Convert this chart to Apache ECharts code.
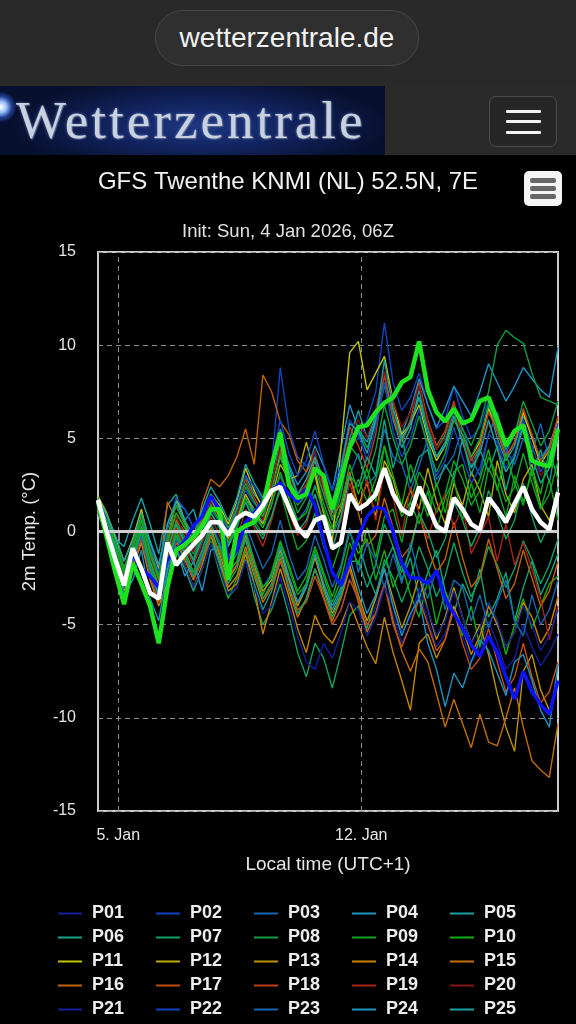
<!DOCTYPE html>
<html>
<head>
<meta charset="utf-8">
<title>GFS Twenthe</title>
<script src="https://cdn.jsdelivr.net/npm/echarts@6/dist/echarts.min.js"></script>
<style>
html, body { margin: 0; padding: 0; background: #000; width: 576px; height: 1024px; overflow: hidden; font-family: "Liberation Sans", Arial, sans-serif; }
#chart { position: absolute; left: 0; top: 0; width: 576px; height: 1024px; }
#topbar { position: absolute; left: 0; top: 0; width: 576px; height: 85px; background: #292929; z-index: 2; }
#url { position: absolute; left: 155px; top: 10px; width: 264px; height: 56px; box-sizing: border-box; border-radius: 28px; background: #2f2f2f; border: 1px solid #474747; color: #f2f2f2; font-size: 28px; line-height: 54px; text-align: center; }
#header { position: absolute; left: 0; top: 85px; width: 576px; height: 70px; background: #2a2a2a; z-index: 2; }
#logo { position: absolute; left: 0; top: 1px; width: 385px; height: 69px; overflow: hidden;
  background: radial-gradient(ellipse 190px 50px at 200px 40px, #1d3780 0%, #122460 45%, #07102e 100%); }
#logo .star { position: absolute; left: -14px; top: 6px; width: 30px; height: 30px; border-radius: 50%;
  background: radial-gradient(circle, #ffffff 0%, #9ec4ff 25%, rgba(60,110,255,0.5) 50%, rgba(0,0,0,0) 75%); }
#logo .txt { position: absolute; left: 16px; top: 2px; font-family: "Liberation Serif", "DejaVu Serif", serif; font-size: 53px; letter-spacing: 3px; line-height: 64px;
  color: #c9d0de; text-shadow: 0 0 3px rgba(140,170,255,0.6), 1px 1px 0 #4a5470; }
#menu { position: absolute; left: 489px; top: 11px; width: 68px; height: 51px; box-sizing: border-box; border: 1px solid #4b4b4b; border-radius: 7px; background: #262626; }
#menu span { position: absolute; left: 16px; width: 35px; height: 3px; background: #f4f4f4; border-radius: 1px; }
</style>
</head>
<body>
<div id="chart"></div>
<div id="topbar"><div id="url">wetterzentrale.de</div></div>
<div id="header">
  <div id="logo"><div class="star"></div><div class="txt">Wetterzentrale</div></div>
  <div id="menu"><span style="top:13px"></span><span style="top:23px"></span><span style="top:34px"></span></div>
</div>
<script>
// hours relative to 5 Jan 00:00 local time (UTC+1), 6-hourly from 4 Jan 10:00
var hours = [-14,-8,-2,4,10,16,22,28,34,40,46,52,58,64,70,76,82,88,94,100,
  106,112,118,124,130,136,142,148,154,160,166,172,178,184,190,196,202,208,214,220,
  226,232,238,244,250,256,262,268,274,280,286,292,298,304];
var tickHours = [0, 168];
var tickLabels = ['5. Jan', '12. Jan'];
var yTicks = [-15, 15, 5];

var P01 = [1.4,0.5, -1.0,-2.6,-1.2,-0.6, -2.5,-3.4,-1.5,-0.8, -1.5,-2.2,-0.8,0.6, -0.5,-1.8,-1.2,0.2, -1.5,-3.0,-2.2,-0.8, -2.8,-4.5,-3.6,-2.0, -3.5,-5.0,-4.2,-2.5, -3.8,-5.2,-4.0,-2.8, -4.5,-6.0,-5.0,-3.2, -4.8,-6.2,-5.5,-4.0, -5.6,-7.0,-6.2,-4.8, -6.0,-7.4,-6.8,-5.0, -6.2,-7.2,-6.5,-5.5];
var P02 = [1.6,0.8, -0.8,-2.2,-1.0,0.2, -1.5,-2.8,-0.6,0.5, -0.2,-1.0,0.5,1.8, 0.8,-0.2,1.0,2.2, 1.5,1.0,3.5,8.8, 5.5,4.0,3.5,4.2, 2.5,1.0,2.0,4.5, 5.0,6.0,7.5,11.2, 8.0,6.5,7.2,8.5, 6.8,5.5,6.0,7.8, 6.2,5.0,5.6,7.0, 5.5,4.2,5.2,6.5, 5.0,4.0,4.6,6.0];
var P03 = [1.2,0.0, -1.2,-2.8,-1.6,-0.4, -2.0,-3.5,-1.8,0.2, -0.8,-1.5,0.2,1.2, 0.5,-0.5,0.6,1.8, 0.8,0.2,1.5,3.0, 1.8,0.6,1.2,2.5, 1.0,-0.2,0.8,3.0, 4.2,2.5,3.0,5.5, 4.0,3.6,2.2,3.5, 5.0,2.8,3.4,4.1, 5.6,4.0,3.0,5.2, 6.4,4.4,3.6,5.0, 4.2,5.8,3.8,5.4];
var P04 = [1.5,0.4, -0.6,-2.0,-0.8,1.0, -0.5,-1.8,0.4,1.6, 1.2,0.2,1.0,1.8, 0.6,-0.8,0.5,2.0, 1.2,0.5,2.5,4.8, 3.6,2.5,3.2,4.6, 3.5,2.2,4.5,6.8, 5.5,4.8,6.0,8.0, 6.5,5.2,6.5,8.2, 6.8,5.6,6.6,7.8, 7.0,6.2,7.5,9.0, 8.0,7.0,7.8,8.8, 8.2,7.6,7.2,9.9];
var P05 = [1.8,0.8, -0.4,-0.8,0.6,1.8, 0.4,-1.2,1.4,2.0, 0.6,1.2,-0.4,2.0, 1.0,0.0,1.2,3.0, 2.0,1.4,3.0,5.5, 3.5,2.0,2.5,3.8, 2.2,1.0,2.8,5.0, 6.5,5.0,6.2,8.5, 6.0,4.5,5.5,7.6, 5.5,4.0,4.8,6.5, 4.8,3.5,4.5,6.8, 5.0,3.8,4.6,6.2, 5.2,3.8,4.6,6.0];
var P06 = [1.0,-0.2, -1.5,-3.0,-1.8,-0.2, -2.2,-3.6,-2.5,-1.0, -2.0,-3.2,-2.0,-0.6, -1.6,-3.0,-2.4,-1.0, -2.8,-4.2,-3.2,-1.6, -2.5,-3.8,-2.8,-1.2, -2.8,-4.0,-3.0,-1.4, -0.6,-2.2,-3.4,-1.8, -0.8,-2.6,-1.4,-3.6, -2.2,-1.0,-3.2,-4.4, -2.8,-3.8,-2.0,-4.6, -3.6,-2.2,-4.8,-3.0, -1.6,-3.4,-2.4,-1.2];
var P07 = [1.3,0.3, -1.0,-2.5,-1.2,0.4, -1.8,-3.0,-1.2,0.0, -1.2,-2.5,-1.4,-0.2, -1.8,-3.5,-3.0,-1.5, -3.5,-5.0,-4.2,-2.8, -4.5,-6.5,-7.8,-6.0, -6.8,-8.4,-6.5,-4.5, -4.0,-5.2,-3.5,-1.5, -2.5,-3.8,-2.6,-0.8, -2.0,-3.5,-2.4,-0.6, -2.2,-3.5,-2.5,-0.8, -1.8,-3.0,-2.0,-0.5, -1.5,-2.8,-1.8,-0.4];
var P08 = [1.7,0.6, -0.5,-1.9,-0.9,0.5, -1.0,-2.2,-0.4,0.8, -0.3,-1.2,0.2,1.5, 0.6,-0.4,0.8,2.4, 1.6,0.8,2.2,4.2, 2.5,1.0,1.8,3.2, 1.5,0.2,2.0,4.8, 5.5,4.5,5.8,7.8, 6.2,4.8,5.8,7.2, 5.6,4.4,5.2,6.8, 5.5,4.6,5.8,7.5, 10.0,10.8,10.4,10.1, 8.5,7.2,7.0,6.8];
var P09 = [1.1,0.2, -1.2,-2.6,-1.4,0.0, -2.0,-3.2,-1.0,0.6, -0.5,-1.5,-0.2,1.0, 0.2,-0.8,0.4,1.6, 0.6,-0.2,0.8,2.2, 0.5,-1.0,-0.5,1.0, -0.8,-2.0,-0.6,1.8, 2.8,1.6,2.8,4.6, 2.2,0.8,1.6,3.2, 2.4,1.0,2.0,3.8, 2.8,1.4,2.2,4.0, 3.0,1.6,2.4,4.2, 2.6,1.2,2.0,3.8];
var P10 = [1.4,0.2, -0.8,-2.4,-1.0,0.6, -1.6,-3.0,-1.5,-0.2, -1.8,-3.0,-2.0,-0.5, -2.2,-3.6,-2.5,-1.0, -2.0,-3.4,-2.2,-0.5, -1.8,-3.2,-2.4,-0.8, -2.2,-3.5,-2.0,0.0, -1.2,-0.4,-2.6,-1.0, -3.0,-1.8,-3.4,-4.6, -2.6,-5.0,-3.2,-4.4, -5.6,-4.0,-6.2,-3.8, -4.8,-6.6,-5.0,-3.6, -5.2,-4.0,-2.8,-2.4];
var P11 = [1.9,1.0, -0.3,-1.6,-0.4,1.2, -0.8,-2.0,0.2,1.4, 0.4,-0.6,0.8,2.0, 1.4,0.4,1.6,3.4, 2.2,1.2,2.6,4.0, 3.0,1.6,2.0,3.2, 1.0,-0.5,4.5,9.6, 10.2,7.6,8.5,9.4, 7.0,5.2,5.8,6.8, 5.0,3.8,4.6,6.0, 5.2,4.0,4.8,6.6, 5.4,4.0,4.8,6.4, 5.0,3.6,4.4,6.0];
var P12 = [1.3,0.4, -1.0,-2.4,-1.2,0.2, -1.5,-2.8,-0.8,1.8, 0.5,-0.5,0.5,1.6, 0.8,-0.4,0.6,2.0, 1.0,0.4,1.8,3.6, 2.8,3.0,4.8,3.0, 1.0,0.0,1.2,3.0, 1.4,2.6,0.8,3.8, 2.8,1.0,2.2,1.2, 3.4,1.6,0.4,2.6, 1.4,3.2,2.2,0.8, 3.8,2.0,1.0,2.8, 3.6,1.4,0.6,2.2];
var P13 = [1.2,0.1, -1.3,-2.9,-1.5,-0.1, -2.0,-3.4,-1.6,-0.4, -1.5,-2.6,-1.2,0.2, -1.2,-2.6,-1.8,-0.2, -1.8,-3.2,-2.6,-1.0, -2.6,-4.0,-3.0,-1.4, -3.0,-4.4,-3.4,-1.8, -3.4,-4.8,-3.6,-2.0, -3.6,-5.2,-4.0,-2.4, -4.2,-5.8,-4.6,-3.0, -4.6,-6.0,-5.0,-6.6, -8.7,-10.5,-11.8,-7.5, -6.6,-8.5,-9.6,-8.0];
var P14 = [1.0,-0.3, -1.6,-3.2,-2.0,-0.6, -2.6,-4.0,-2.8,-1.0, -1.8,-3.0,-1.8,-0.2, -1.5,-3.2,-2.8,-1.2, -3.0,-5.5,-3.8,-2.0, -3.5,-5.2,-6.5,-4.5, -5.5,-6.0,-5.0,-3.8, -5.0,-6.2,-7.1,-4.6, -6.5,-8.0,-9.6,-6.0, -5.5,-6.8,-5.8,-4.0, -5.2,-6.6,-5.6,-4.0, -5.0,-6.2,-5.4,-3.8, -4.6,-6.0,-5.2,-3.5];
var P15 = [1.6,0.6, -0.6,-2.0,-0.8,0.6, -1.4,-2.8,-1.0,0.4, -1.0,-2.2,-1.0,0.2, -1.4,-3.0,-2.4,-0.8, -2.4,-3.8,-3.0,-1.4, -3.2,-4.6,-3.6,-2.0, -3.5,-4.8,-3.6,-2.0, -3.8,-5.4,-4.4,-2.8, -4.8,-6.4,-7.5,-6.3, -7.0,-8.7,-10.5,-9.0, -10.3,-11.6,-9.8,-11.3, -11.5,-10.0,-8.4,-10.5, -12.3,-12.8,-13.2,-10.3];
var P16 = [1.5,0.5, -0.9,-2.3,-1.0,0.4, -1.2,-2.6,1.6,0.6, 0.0,-0.8,1.5,2.8, 2.4,3.0,4.0,5.5, 3.6,8.4,7.5,5.9, 5.2,3.8,3.2,4.0, 2.4,0.8,1.5,3.2, 1.0,-0.8,-0.2,1.8, 0.2,-1.4,-0.8,1.0, -0.8,-2.2,-1.5,0.5, -1.4,-3.0,-2.4,-0.4, -2.0,-3.6,-2.8,-1.0, -2.5,-4.0,-3.2,-1.6];
var P17 = [1.1,-0.1, -1.4,-3.0,-1.8,-0.4, -2.4,-3.8,-2.2,-0.6, -1.4,-2.6,-1.6,-0.2, -1.0,-2.4,-1.8,-0.4, -2.0,-3.6,-3.0,-1.6, -3.0,-4.2,-3.8,-2.4, -3.6,-5.0,-4.2,-2.6, -3.6,-5.0,-4.4,-2.8, -5.0,-6.2,-5.0,-3.6, -5.0,-6.4,-5.8,-4.2, -6.0,-7.4,-6.8,-5.2, -7.0,-8.6,-7.8,-6.0, -7.8,-9.2,-8.6,-7.0];
var P18 = [1.7,0.7, -0.6,-2.0,-0.8,0.8, -1.0,-2.4,-0.4,1.0, 0.2,-0.6,0.6,1.8, 1.2,0.2,1.4,2.8, 1.8,1.0,2.6,4.4, 2.8,1.6,2.4,4.0, 2.6,1.2,3.0,5.6, 4.6,3.4,5.2,8.4, 6.2,4.8,6.0,8.0, 6.0,4.6,5.4,7.0, 5.0,3.8,4.6,6.4, 5.4,4.0,4.8,6.6, 5.2,3.8,4.4,6.2];
var P19 = [1.3,0.3, -1.1,-2.6,-1.3,0.2, -1.8,-3.2,-1.4,0.2, -0.8,-1.8,-0.6,0.8, -0.2,-1.4,-0.4,1.2, 0.2,-0.8,0.6,2.4, 1.0,-0.2,0.4,2.0, 0.6,-0.8,0.6,2.6, 1.0,2.8,0.6,3.4, 1.8,-0.2,2.4,1.0, -0.4,1.2,2.0,0.2, 1.4,-1.2,-0.2,0.8, -1.6,0.4,-1.8,-0.6, -2.0,-3.6,-5.8,-4.0];
var P20 = [1.4,0.5, -0.9,-2.4,-1.1,0.4, -1.4,-2.7,-0.7,0.8, -0.2,-1.1,0.4,1.6, 0.6,-0.6,0.8,2.6, 1.6,0.6,2.4,4.6, 3.0,1.8,2.6,4.4, 2.0,0.6,2.8,5.4, 6.0,5.0,6.6,8.6, 7.0,5.6,6.4,7.8, 5.8,4.4,5.0,6.6, 5.0,3.6,4.2,5.8, 4.6,3.2,4.0,5.6, 4.2,3.0,3.6,5.2];
var P21 = [1.2,0.2, -1.2,-2.8,-1.4,0.0, -2.0,-3.4,-2.0,-0.8, -1.8,-3.0,-2.0,-0.6, -2.0,-3.4,-3.0,-1.6, -3.0,-4.4,-4.0,-2.4, -4.0,-5.6,-7.0,-7.4, -6.0,-6.8,-5.4,-3.8, -4.2,-5.6,-4.6,-3.0, -4.0,-5.4,-4.6,-3.0, -4.2,-5.6,-4.8,-3.2, -4.6,-6.0,-5.2,-3.8, -4.8,-6.2,-5.4,-4.0, -5.0,-6.4,-5.6,-4.2];
var P22 = [1.6,0.7, -0.7,-2.1,-0.9,0.6, -0.8,-2.2,0.2,1.8, 1.2,0.2,1.0,2.0, 1.0,0.0,1.4,3.0, 2.4,1.6,3.6,6.0, 4.2,3.0,3.8,5.4, 3.6,2.2,3.6,6.0, 5.2,3.8,5.6,8.0, 5.4,4.0,5.0,6.6, 4.4,3.0,3.8,5.6, 4.0,2.6,3.4,5.2, 4.8,3.4,4.2,6.0, 4.6,3.2,4.0,5.8];
var P23 = [1.0,-0.1, -1.4,-3.0,-1.6,-0.2, -2.2,-3.6,-2.2,-0.4, -1.2,-2.4,-1.2,0.4, -0.6,-2.0,-1.2,0.4, -0.8,-2.0,-1.2,0.6, -1.2,-2.6,-2.0,-0.2, -1.5,-3.0,-1.8,0.2, -2.2,-0.6,-1.6,-3.0, -1.2,-2.8,-0.6,-2.4, -3.6,-2.0,-4.2,-2.6, -3.0,-4.8,-3.4,-5.2, -3.8,-2.6,-4.8,-5.6, -3.4,-5.0,-4.2,-2.6];
var P24 = [1.5,0.3, -0.8,-3.4,-2.6,-1.0, -3.6,-4.8,-2.0,-0.8, -2.4,-1.6,-3.2,-1.0, -0.8,-2.2,-1.6,0.0, -1.6,-3.0,-2.4,-0.8, -2.4,-3.8,-3.0,-1.2, -2.8,-4.2,-3.2,-1.4, -3.0,-4.4,-3.4,-2.0, -4.0,-5.6,-4.4,-3.6, -6.0,-7.4,-9.4,-7.6, -8.4,-7.0,-5.8,-6.4, -7.6,-8.8,-7.0,-6.6, -8.0,-9.6,-10.5,-7.1];
var P25 = [1.8,0.9, -0.2,-1.6,-0.5,1.0, -0.6,-1.8,0.4,1.6, 0.6,-0.2,1.2,2.4, 1.6,0.6,1.8,3.6, 2.6,1.8,3.4,5.2, 3.2,2.0,2.8,4.0, 2.8,1.6,3.4,5.8, 5.4,4.2,6.0,9.2, 6.6,5.0,5.8,7.2, 5.2,4.0,4.6,6.2, 4.8,3.4,4.2,6.0, 4.4,3.2,4.0,5.6, 4.0,2.6,3.4,5.0];
var P26 = [1.2,0.3, -1.0,-2.5,-1.2,0.3, -1.6,-3.0,-1.0,0.4, -0.6,-1.6,-0.4,1.0, 0.2,-0.8,0.2,1.6, 0.4,-0.4,0.8,2.4, 1.2,0.0,0.6,2.0, 0.4,-1.0,0.8,3.0, 2.4,4.0,3.0,6.0, 3.4,5.2,2.6,4.0, 4.4,2.4,3.6,2.8, 5.0,3.0,4.4,3.2, 4.6,2.2,4.0,5.8, 3.0,4.4,2.6,5.2];
var P27 = [1.1,0.0, -1.3,-2.8,-1.5,0.0, -2.0,-3.4,-1.8,-0.2, -1.2,-2.4,-1.4,0.0, -1.4,-2.8,-2.0,-0.4, -2.2,-3.6,-2.8,-1.2, -3.0,-4.4,-3.6,-2.0, -3.2,-4.6,-3.4,-1.6, -1.6,-3.0,-1.8,0.4, -0.8,-2.2,-1.0,1.0, 0.0,-1.4,-0.4,1.6, 0.6,-0.8,0.2,2.2, 1.0,-0.4,0.6,2.6, 0.8,-0.6,0.4,2.4];
var P28 = [1.6,0.6, -0.5,-2.0,-0.7,0.9, -1.0,-2.4,-0.2,1.4, 0.4,-0.4,0.8,2.0, 1.2,0.2,1.2,2.6, 1.6,0.8,2.2,4.0, 2.6,1.4,2.0,3.4, 2.0,0.6,2.4,4.6, 4.0,2.8,4.4,6.8, 5.0,3.6,4.6,6.2, 4.6,3.2,4.2,6.0, 5.2,4.0,5.0,6.8, 5.6,4.4,5.2,7.0, 5.8,4.6,5.4,7.0];
var P29 = [1.3,0.1, -1.1,-2.6,-1.3,0.2, -1.8,-3.2,-1.6,0.0, -1.0,-2.2,-1.0,0.4, -0.8,-2.2,-1.6,0.0, -1.6,-3.0,-2.4,-0.6, -2.0,-3.4,-2.8,-1.0, -2.4,-3.8,-2.6,-0.6, -1.8,0.2,-1.4,0.8, 1.2,-0.6,1.6,0.4, 2.2,0.0,1.8,2.8, 0.6,2.6,1.0,3.4, 2.4,0.8,3.0,1.6, 3.2,1.2,2.8,0.6];
var P30 = [1.5,0.6, -0.7,-2.2,-0.9,0.6, -1.2,-2.6,-0.6,1.0, 0.2,-0.8,0.4,1.4, 0.6,-0.6,0.4,1.8, 1.0,0.2,1.4,3.2, 1.8,0.6,1.0,2.4, 1.2,-0.2,1.4,3.6, 2.0,3.4,1.6,4.6, 3.0,1.4,3.6,2.2, 0.8,2.6,1.0,3.2, 3.6,1.8,2.8,4.4, 2.2,4.2,2.6,1.4, 3.4,2.0,4.4,2.8];

// control run (blue), operational run (green), ensemble mean (white)
var control = [1.5,0.2, -1.8,-2.8,-1.2,-2.0, -2.4,-3.0,-1.5,-1.0, -0.5,0.3,0.8,1.9, 1.2,-1.5,-1.0,0.5, 1.0,1.6,2.2,2.6, 2.0,1.6,2.3,1.4, -0.5,-2.2,-2.9,-1.6, -0.3,0.8,1.3,1.2, 0.0,-1.7,-2.5,-2.5, -2.8,-2.1,-3.6,-4.4, -5.2,-6.1,-6.7,-5.6, -6.5,-7.8,-9.0,-7.5, -8.6,-9.3,-9.8,-8.0];
var oper = [1.6,-0.3, -2.2,-3.9,-1.7,-2.8, -4.0,-6.0,-3.0,-1.0, -0.7,-0.3,0.3,1.2, 1.2,-2.6,0.0,0.3, 0.5,1.3,3.5,5.3, 2.5,1.8,2.0,3.4, 3.0,1.2,2.8,4.5, 5.6,5.7,6.4,6.9, 7.2,8.0,8.3,10.2, 7.6,6.4,5.9,6.6, 5.8,6.0,7.0,7.2, 6.0,4.6,5.4,5.7, 3.8,3.6,3.5,5.5];
var mean = [1.7,0.0, -1.5,-2.9,-0.9,-2.0, -3.3,-3.6,-0.6,-1.8, -1.2,-0.7,-0.2,0.5, 0.5,-0.2,0.7,1.0, 0.8,1.4,2.2,2.4, 1.3,0.2,-0.3,0.6, 0.8,-0.9,-0.6,2.0, 1.2,1.5,2.0,3.4, 2.0,1.2,0.9,2.4, 1.4,0.3,0.0,1.8, 1.2,0.4,0.1,1.8, 1.2,0.5,1.5,2.4, 1.2,0.5,0.1,2.1];

var memberNames = ['P01','P02','P03','P04','P05','P06','P07','P08','P09','P10',
  'P11','P12','P13','P14','P15','P16','P17','P18','P19','P20',
  'P21','P22','P23','P24','P25','P26','P27','P28','P29','P30'];
var members = [P01,P02,P03,P04,P05,P06,P07,P08,P09,P10,P11,P12,P13,P14,P15,
  P16,P17,P18,P19,P20,P21,P22,P23,P24,P25,P26,P27,P28,P29,P30];
var memberColors = ['#12209a','#0f45c0','#1766b0','#1c92c4','#16a2a6','#12a282','#10a262','#0e9e40','#10a424','#10ae10',
  '#c4c400','#b8ac00','#b89400','#c48400','#c46e00','#c26200','#c25010','#bc3c18','#a82414','#821414'];

function pairs(vals) {
  var out = [];
  for (var i = 0; i < vals.length; i++) out.push([hours[i], vals[i]]);
  return out;
}

var chart = echarts.init(document.getElementById('chart'));

var series = [];
for (var i = 0; i < members.length; i++) {
  var c = memberColors[i % 20];
  var s = {
    name: memberNames[i],
    type: 'line',
    data: pairs(members[i]),
    symbol: 'none',
    showSymbol: false,
    silent: true,
    z: 2,
    lineStyle: { width: 1.4, color: c },
    itemStyle: { color: c }
  };
  if (i === 0) {
    // vertical grid lines at the day ticks
    s.markLine = {
      silent: true, symbol: 'none', z: 1, animation: false,
      label: { show: false },
      lineStyle: { color: '#8c8c8c', width: 1, type: [5, 4] },
      data: tickHours.map(function (h) { return { xAxis: h }; })
    };
  }
  if (i === 1) {
    // zero line
    s.markLine = {
      silent: true, symbol: 'none', z: 5, animation: false,
      label: { show: false },
      lineStyle: { color: '#cfcfcf', width: 3, type: 'solid' },
      data: [{ yAxis: 0 }]
    };
  }
  series.push(s);
}
series.push({ name: 'Control', type: 'line', data: pairs(control), symbol: 'none', silent: true, z: 6,
  lineStyle: { width: 3.5, color: '#0a12ff' }, itemStyle: { color: '#0a12ff' } });
series.push({ name: 'Oper', type: 'line', data: pairs(oper), symbol: 'none', silent: true, z: 7,
  lineStyle: { width: 4.5, color: '#1de21d' }, itemStyle: { color: '#1de21d' } });
series.push({ name: 'Mean', type: 'line', data: pairs(mean), symbol: 'none', silent: true, z: 8,
  lineStyle: { width: 4.5, color: '#ffffff' }, itemStyle: { color: '#ffffff' } });

var option = {
  backgroundColor: '#000',
  animation: false,
  title: [
    { text: 'GFS Twenthe KNMI (NL) 52.5N, 7E', left: 'center', top: 165,
      textStyle: { color: '#f2f2f2', fontSize: 24, fontWeight: 'normal', fontFamily: 'Liberation Sans' } },
    { text: 'Init: Sun, 4 Jan 2026, 06Z', left: 'center', top: 217,
      textStyle: { color: '#e2e2e2', fontSize: 18.5, fontWeight: 'normal', fontFamily: 'Liberation Sans' } }
  ],
  graphic: [
    { type: 'rect', left: 524, top: 171, shape: { width: 38, height: 35, r: 5 }, style: { fill: '#f4f4f4' } },
    { type: 'rect', left: 530, top: 178, shape: { width: 26, height: 5, r: 2 }, style: { fill: '#666' } },
    { type: 'rect', left: 530, top: 186, shape: { width: 26, height: 5, r: 2 }, style: { fill: '#666' } },
    { type: 'rect', left: 530, top: 194, shape: { width: 26, height: 5, r: 2 }, style: { fill: '#666' } }
  ],
  legend: {
    data: memberNames,
    left: 53, top: 899, width: 505,
    orient: 'horizontal',
    icon: 'rect', itemWidth: 24, itemHeight: 2, itemGap: 5,
    selectedMode: false,
    textStyle: { color: '#eeeeee', fontSize: 18, fontWeight: 'bold', fontFamily: 'Liberation Sans',
      width: 59, lineHeight: 19, padding: [0, 0, 0, 5] }
  },
  grid: { left: 98, right: 18, top: 252, bottom: 213, show: true, borderColor: '#cccccc', borderWidth: 2 },
  xAxis: {
    type: 'value', min: -14, max: 304,
    name: 'Local time (UTC+1)', nameLocation: 'middle', nameGap: 44,
    nameTextStyle: { color: '#e6e6e6', fontSize: 19, fontFamily: 'Liberation Sans' },
    axisLine: { show: false },
    splitLine: { show: false },
    axisTick: { show: true, customValues: tickHours, length: 10, lineStyle: { color: '#a9b6c6', width: 1.5 } },
    axisLabel: { customValues: tickHours, color: '#e6e6e6', fontSize: 16, margin: 17, fontFamily: 'Liberation Sans',
      formatter: function (v) { return tickLabels[tickHours.indexOf(v)] || ''; } }
  },
  yAxis: {
    type: 'value', min: yTicks[0], max: yTicks[1], interval: yTicks[2],
    name: '2m Temp. (°C)', nameLocation: 'middle', nameGap: 59, nameRotate: 90,
    nameTextStyle: { color: '#e6e6e6', fontSize: 18.5, fontFamily: 'Liberation Sans' },
    axisLine: { show: false },
    axisTick: { show: false },
    axisLabel: { color: '#e6e6e6', fontSize: 16, margin: 22, fontFamily: 'Liberation Sans' },
    splitLine: { show: true, lineStyle: { color: '#8c8c8c', width: 1, type: [5, 4] } }
  },
  series: series
};
chart.setOption(option);
</script>
</body>
</html>
